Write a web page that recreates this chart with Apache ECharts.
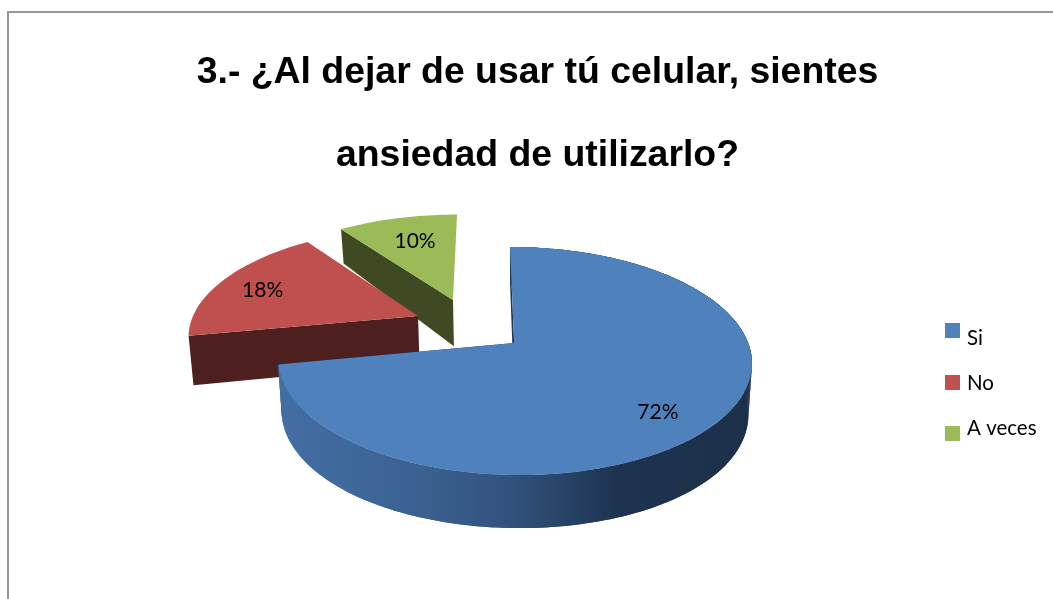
<!DOCTYPE html>
<html><head><meta charset="utf-8">
<style>html,body{margin:0;padding:0;background:#fff}#c{width:1053px;height:599px}</style>
<script src="https://cdn.jsdelivr.net/npm/echarts@6/dist/echarts.min.js"></script>
</head><body><div id="c"></div>
<script>
const titleLines = ['3.- ¿Al dejar de usar tú celular, sientes', 'ansiedad de utilizarlo?'];
const categories = ['Si', 'No', 'A veces'];
const percentages = [72, 18, 10];
const topColors = ['#4f81bd', '#c0504d', '#9bbb59'];
const cutColors = ['#1f3a5c', '#4d1f1e', '#3f4a22'];

// Projection of the tilted pie
const APEX = [513, 343], RADIUS = 234, TILT = 111.2, PERSP = 0.158, VANISH_X = 484;
const explode = [[0.005, 0], [-0.417, 0.2525], [-0.265, 0.4125]];
const labelRadius = [0.75, 0.71, 0.69];
const labelNudge = [[-5, 12], [-15, 0], [2, 0]];
const legendPadding = [[16, 0, 0, 2], [2, 0, 0, 2], [0, 0, 10, 2]];
const total = percentages.reduce((a, b) => a + b, 0);

function project(u, v, lower) {
  const s = 1 / (1 + PERSP * v);
  const X = APEX[0] + RADIUS * u;
  const x = VANISH_X + (X - VANISH_X) * s;
  const y = APEX[1] - TILT * v * s;
  if (!lower) return [x, y];
  return [APEX[0] + (x - APEX[0]) * 0.985, y + 50 - 7.4 * v - 4.4 * v * v];
}
function dir(t) { return [Math.sin(t), Math.cos(t)]; }

function renderSlice(i, value) {
  const prior = percentages.slice(0, i).reduce((a, b) => a + b, 0);
  const a0 = prior / total * 2 * Math.PI;
  const a1 = a0 + value / total * 2 * Math.PI;
  const [ox, oy] = explode[i];
  const pt = (t, r, lower) => { const d = dir(t); return project(ox + d[0] * r, oy + d[1] * r, lower); };
  const n = Math.max(12, Math.round((a1 - a0) * 40));
  const arcTop = [], arcLow = [];
  for (let k = 0; k <= n; k++) {
    const t = a0 + (a1 - a0) * k / n;
    arcTop.push(pt(t, 1, false));
    arcLow.push(pt(t, 1, true));
  }
  const cTop = pt(0, 0, false), cLow = pt(0, 0, true);
  const face = (points, fill) => ({ type: 'polygon', shape: { points }, style: { fill, stroke: null } });
  const children = [];
  if (i === 0) {
    const wallFill = { type: 'linear', global: true, x: 282, y: 0, x2: 750, y2: 0, colorStops: [
      { offset: 0, color: '#436ea4' }, { offset: 0.3, color: '#3a6190' },
      { offset: 0.5, color: '#31517a' }, { offset: 0.72, color: '#1d3350' }, { offset: 1, color: '#1c3049' }] };
    children.push(face([arcTop[n], cTop, cLow, arcLow[n]], cutColors[i]));
    children.push(face(arcTop.concat(arcLow.slice().reverse()), wallFill));
    for (let k = 0; k < n; k++) {
      children.push(face([arcTop[k], arcTop[k + 1], arcLow[k + 1], arcLow[k]], wallFill));
    }
  }
  children.push(
    face([arcTop[0], cTop, cLow, arcLow[0]], cutColors[i]),
    face([cTop].concat(arcTop), topColors[i])
  );
  const mid = (a0 + a1) / 2;
  const lp = pt(mid, labelRadius[i], false);
  children.push({ type: 'text', style: {
    text: value + '%', x: lp[0] + labelNudge[i][0], y: lp[1] + labelNudge[i][1],
    align: 'center', verticalAlign: 'middle',
    font: '21px Lato, "Open Sans", sans-serif', fill: '#000' } });
  return { type: 'group', children };
}

const legendRich = {};
categories.forEach((name, i) => {
  legendRich['t' + i] = { fontFamily: 'Lato, "Open Sans", sans-serif', fontSize: 20.5, color: '#000', padding: legendPadding[i] };
});

const chart = echarts.init(document.getElementById('c'));
chart.setOption({
  animation: false,
  backgroundColor: '#fff',
  title: {
    text: titleLines.join('\n'), left: 532.5, top: 26, textAlign: 'center',
    textStyle: { fontFamily: '"Liberation Sans", Arial, sans-serif', fontWeight: 'bold', fontSize: 37.4, lineHeight: 83, color: '#000' }
  },
  legend: {
    data: categories, orient: 'vertical', left: 940, top: 318, icon: 'rect',
    itemWidth: 15, itemHeight: 15, itemGap: 24, selectedMode: false,
    formatter: name => '{t' + categories.indexOf(name) + '|' + name + '}',
    textStyle: { rich: legendRich }
  },
  graphic: [{ type: 'rect', silent: true, z: -1,
    shape: { x: 8, y: 12, width: 1300, height: 800 },
    style: { fill: 'none', stroke: '#969696', lineWidth: 2 } }],
  series: categories.map((name, i) => ({
    type: 'custom', name, coordinateSystem: 'none', z: 10 - i,
    itemStyle: { color: topColors[i] },
    data: [percentages[i]],
    renderItem: (params, api) => renderSlice(i, api.value(0))
  }))
});
</script></body></html>
